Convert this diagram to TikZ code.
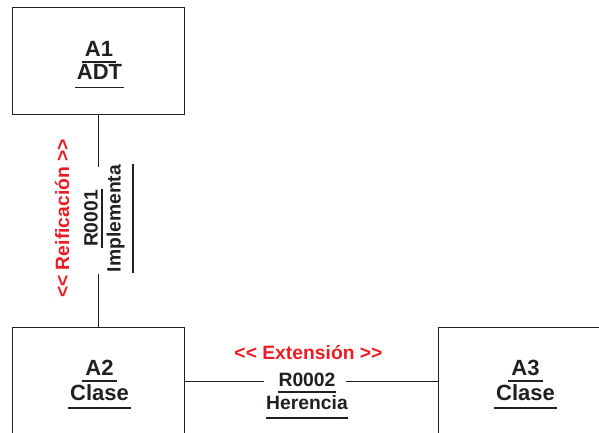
\documentclass[tikz,border=0pt]{standalone}
\usepackage{fontspec}
\setmainfont{Liberation Sans}[Ligatures=TeXOff]
\definecolor{ink}{HTML}{231F20}
\definecolor{stereored}{HTML}{ED1C24}
\newcommand\dlt{<<}
\newcommand\dgt{>>}
% horizontal underline: node, distance below baseline, overhang
\newcommand\ulh[3]{\draw[uline] ([xshift=-#3,yshift=-#2]#1.base west) -- ([xshift=#3,yshift=-#2]#1.base east);}
% rotated (90 deg) underline: to the right of the baseline
\newcommand\ulv[3]{\draw[uline] ([xshift=#2,yshift=-#3]#1.base west) -- ([xshift=#2,yshift=#3]#1.base east);}
\begin{document}
\begin{tikzpicture}[x=1pt,y=-1pt,
  box/.style={draw=ink, line width=1.1pt, minimum width=172pt, minimum height=107pt, inner sep=0pt, anchor=north west},
  big/.style={font=\fontsize{22}{26}\selectfont\bfseries, text=ink, inner sep=0pt, anchor=base},
  rel/.style={font=\fontsize{19.3}{23}\selectfont\bfseries, text=ink, inner sep=0pt, anchor=base},
  stereo/.style={font=\fontsize{19.3}{23}\selectfont\bfseries, text=stereored, inner sep=0pt, anchor=base},
  conn/.style={draw=ink, line width=0.9pt},
  uline/.style={draw=ink, line width=1.8pt}]
\useasboundingbox (0,0) rectangle (599,433);
% boxes
\node[box] (a1) at (12,7) {};
\node[box] (a2) at (12,327) {};
\node[box] (a3) at (438,327) {};
% box labels
\node[big] (a1n) at ([xshift=0.5pt,yshift=5pt]a1.center) {A1};
\node[big] (a1t) at ([xshift=1pt,yshift=-18.5pt]a1.center) {ADT};
\ulh{a1n}{6pt}{3pt}
\ulh{a1t}{8pt}{2pt}
\node[big] (a2n) at ([xshift=1pt,yshift=6pt]a2.center) {A2};
\node[big] (a2t) at ([xshift=1pt,yshift=-19.5pt]a2.center) {Clase};
\ulh{a2n}{6pt}{3pt}
\ulh{a2t}{7.5pt}{2pt}
\node[big] (a3n) at ([xshift=1pt,yshift=6pt]a3.center) {A3};
\node[big] (a3t) at ([xshift=1pt,yshift=-19.5pt]a3.center) {Clase};
\ulh{a3n}{6pt}{3pt}
\ulh{a3t}{7.5pt}{2pt}
% vertical relation labels
\node[stereo, rotate=90] (s1) at (69,218.5) {\dlt{} Reificación \dgt};
\node[rel, rotate=90] (r1) at (97.5,218.5) {R0001};
\node[rel, rotate=90] (i1) at (120.5,218.5) {Implementa};
\ulv{r1}{4.5pt}{1pt}
\ulv{i1}{12.5pt}{1pt}
\draw[conn] (a1.south) -- ([yshift=-2pt]a1.south |- i1.east);
\draw[conn] ([yshift=-2pt]a2.north |- i1.west) -- (a2.north);
% horizontal relation labels
\node[stereo] (s2) at (308.5,359.3) {\dlt{} Extensión \dgt};
\node[rel] (r2) at (307,386) {R0002};
\node[rel] (h2) at (307,409.3) {Herencia};
\ulh{r2}{5.7pt}{0pt}
\ulh{h2}{8.4pt}{0pt}
\draw[conn] (a2.east) -- ([xshift=-2.5pt]a2.east -| h2.west);
\draw[conn] ([xshift=-2pt]a3.west -| h2.east) -- (a3.west);
\end{tikzpicture}
\end{document}
